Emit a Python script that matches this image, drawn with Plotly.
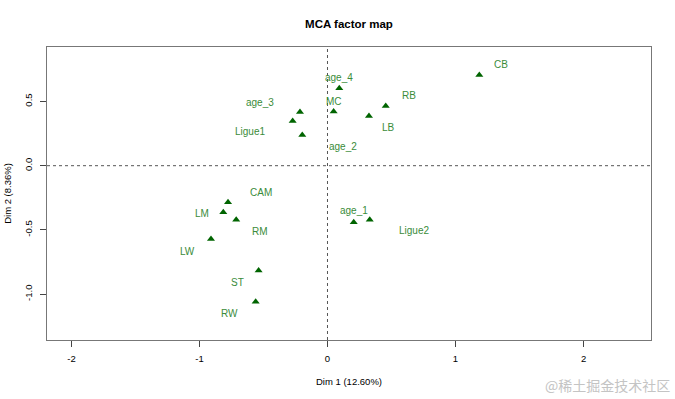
import plotly.graph_objects as go

# ---- data ----
categories = ["age_4", "MC", "age_3", "Ligue1", "age_2", "LB", "RB", "CB",
              "CAM", "LM", "RM", "LW", "ST", "RW", "age_1", "Ligue2"]
dim1 = [0.092, 0.048, -0.215, -0.272, -0.197, 0.324, 0.455, 1.186,
        -0.777, -0.814, -0.713, -0.910, -0.538, -0.561, 0.205, 0.330]
dim2 = [0.603, 0.421, 0.418, 0.348, 0.239, 0.387, 0.465, 0.706,
        -0.285, -0.363, -0.421, -0.571, -0.815, -1.059, -0.441, -0.421]
x_ticks = [-2, -1, 0, 1, 2]
y_ticks = [-1.0, -0.5, 0.0, 0.5]
y_tick_labels = ["-1.0", "-0.5", "0.0", "0.5"]

# label placement offsets in pixels (dx, dy; dy positive = up)
label_offsets = [(0, 11), (0, 10), (-40, 10), (-43, -11), (41, -12), (20, -12),
                 (23, 10), (22, 11), (33, 10), (-21, -1), (24, -12), (-23, -12),
                 (-21, -12), (-26, -12), (0, 12), (44, -11)]

FONT = "Liberation Sans, Arial, sans-serif"
MARK = "#006400"
LAB = "#3a8c3a"

fig = go.Figure()
fig.add_trace(go.Scatter(
    x=dim1, y=dim2, mode="markers",
    marker=dict(symbol="triangle-up", size=7, color=MARK, line=dict(width=0)),
    hoverinfo="text", text=categories, showlegend=False))

annotations = []
for name, xv, yv, (dx, dy) in zip(categories, dim1, dim2, label_offsets):
    annotations.append(dict(x=xv, y=yv, xref="x", yref="y", text=name,
                            showarrow=False, xshift=dx, yshift=dy,
                            font=dict(family=FONT, size=10, color=LAB)))

annotations.append(dict(text="@稀土掘金技术社区", xref="paper", yref="paper",
                        x=1.035, y=-0.154, xanchor="right", yanchor="middle",
                        showarrow=False,
                        font=dict(family="Noto Sans CJK SC", size=14, color="#c4c4c4")))

shapes = [
    dict(type="line", xref="x", yref="paper", x0=0, x1=0, y0=0, y1=1,
         line=dict(color="#555555", width=1, dash="3px,3px")),
    dict(type="line", xref="paper", yref="y", x0=0, x1=1, y0=0, y1=0,
         line=dict(color="#555555", width=1, dash="3px,3px")),
]

fig.update_layout(
    width=675, height=399, autosize=False,
    margin=dict(l=47, r=24, t=47, b=59),
    plot_bgcolor="white", paper_bgcolor="white",
    font=dict(family=FONT, color="#000000"),
    title=dict(text="<b>MCA factor map</b>", x=0.517, xanchor="center",
               y=1 - 24 / 399, yanchor="middle",
               font=dict(family=FONT, size=11.5, color="#000000")),
    xaxis=dict(range=[-2.191, 2.527], tickmode="array", tickvals=x_ticks,
               ticktext=[str(v) for v in x_ticks],
               showgrid=False, zeroline=False, showline=True, mirror=True,
               linecolor="#777777", linewidth=1, ticks="outside", ticklen=6,
               tickcolor="#444444", tickfont=dict(size=9.5, family=FONT),
               ticklabelstandoff=4,
               title=dict(text="Dim 1 (12.60%)", font=dict(size=9.5, family=FONT),
                          standoff=14),
               automargin=False, fixedrange=True),
    yaxis=dict(range=[-1.357, 0.924], tickmode="array", tickvals=y_ticks,
               ticktext=y_tick_labels, tickangle=-90,
               showgrid=False, zeroline=False, showline=True, mirror=True,
               linecolor="#777777", linewidth=1, ticks="outside", ticklen=6,
               tickcolor="#444444", tickfont=dict(size=9.5, family=FONT),
               ticklabelstandoff=4,
               title=dict(text="Dim 2 (8.36%)", font=dict(size=9.5, family=FONT),
                          standoff=9),
               automargin=False, fixedrange=True),
    annotations=annotations,
    shapes=shapes,
)

fig.write_html("out.html",
               config={"displayModeBar": False, "staticPlot": False},
               post_script="document.body.style.margin='0';document.body.style.overflow='hidden';")
